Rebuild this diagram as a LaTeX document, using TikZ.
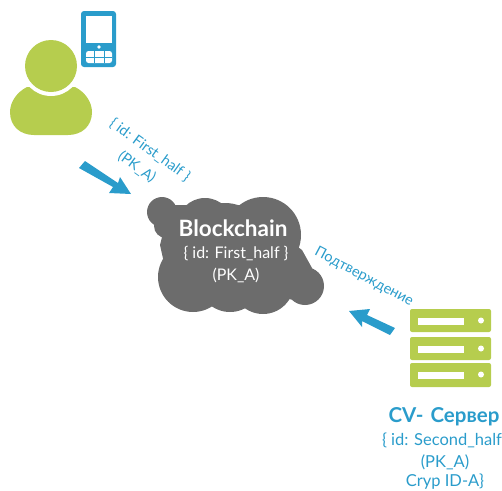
\documentclass[tikz,border=0pt]{standalone}
\usepackage{fontspec}
\setmainfont{Lato}
\definecolor{cblue}{HTML}{2A9CCB}
\definecolor{cgreen}{HTML}{B6CD4E}
\definecolor{cgray}{HTML}{6C6C6C}
\tikzset{
  px/.style={x=1pt,y=-1pt},
  lbl/.style={inner sep=0pt,text=cblue,font=\fontsize{14.5}{16}\selectfont},
  slbl/.style={inner sep=0pt,text=cblue,font=\fontsize{16.5}{18}\selectfont},
  wlbl/.style={inner sep=0pt,text=white,font=\fontsize{16}{18}\selectfont},
}
\begin{document}
\begin{tikzpicture}[px]
\useasboundingbox (0,0) rectangle (502,490);
% person
\fill[cgreen] (27,87) .. controls (17,92) and (10,102) .. (10,112)
  .. controls (10,126) and (20,135) .. (34,135) -- (68,135)
  .. controls (82,135) and (92,126) .. (92,112)
  .. controls (92,102) and (85,92) .. (75,87) -- cycle;
\fill[white] (51,66) circle (30);
\fill[cgreen] (51,66) circle (26);
% phone
\fill[cblue,rounded corners=3pt] (81,11) rectangle (116,67);
\fill[white] (86,16) rectangle (112,43);
\fill[white] (99,47) circle (1.8);
\fill[white,rounded corners=2.5pt] (86,51) rectangle (112,63);
\draw[cblue,line width=0.9pt] (86,57) -- (112,57) (94,51) -- (94,63) (104,51) -- (104,63);
% arrows
\fill[cblue] (79,168) -- (85,161) -- (118,183) -- (120,177) -- (131,194) -- (109,193) -- (113,187) -- cycle;
\fill[cblue] (349,311) -- (370,309) -- (367,315) -- (395,328) -- (390,335) -- (362,321) -- (362,327) -- cycle;
% cloud
\fill[cgray] (162,212) circle (15) (166,226) circle (12) (205,226) circle (28)
  (263,235) circle (38) (193,277) circle (35) (230,280) circle (32)
  (263,283) circle (31) (283,277) circle (23) (305,286) circle (19)
  (225,245) circle (42);
\fill[cgray] (170,205) -- (240,205) -- (302,250) -- (312,268) -- (300,300) -- (170,290) -- (160,245) -- cycle;
\node[inner sep=0pt,text=white,font=\bfseries\fontsize{22.5}{24}\selectfont] (bc) at (233,228) {Blockchain};
\node[wlbl] (bc1) at (236,254) {\{ id: First\_half \}};
\node[wlbl] (bc2) at (236,275) {(PK\_A)};
% rotated labels
\node[lbl,rotate=-36] (l1) at (150,150) {\{ id: First\_half \}};
\node[lbl,rotate=-36] (l2) at (137,167) {(PK\_A)};
\node[lbl,rotate=-28] (l3) at (364,277) {Подтверждение};
% server
\foreach \t/\b in {309/332,337/360,363/387}{
  \fill[cgreen,rounded corners=2pt] (410,\t) rectangle (491,\b);
  \fill[white] (418,\t+8.5) rectangle (464,\t+15.5);
  \fill[white] (481,\t+11.5) circle (3);
}
\node[inner sep=0pt,text=cblue,font=\bfseries\fontsize{20.5}{22}\selectfont] (cv) at (444,417) {CV-\hspace{0.35em}Сервер};
\node[slbl] (s1) at (442,440) {\{ id: Second\_half};
\node[slbl] (s2) at (445,462) {(PK\_A)};
\node[slbl] (s3) at (445,482) {Cryp ID-A\}};
\end{tikzpicture}
\end{document}
